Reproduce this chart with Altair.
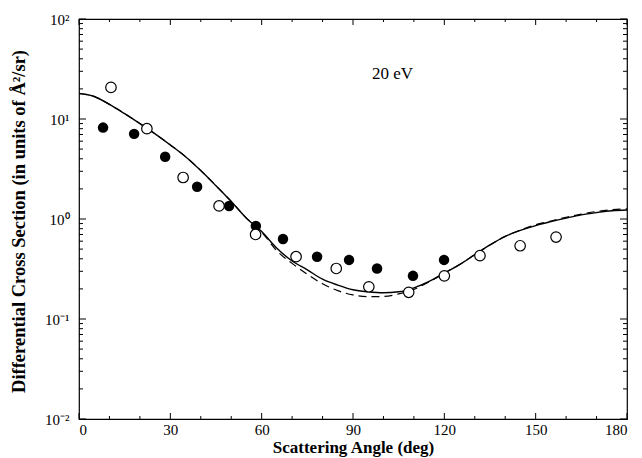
import json
import altair as alt
import pandas as pd

# ---------------- data ----------------
angles = list(range(0, 181, 5))
theory_solid = [18.0, 16.8, 14.0, 11.3, 9.0, 7.1, 5.5, 4.2, 3.05, 2.15, 1.5, 1.02,
                0.75, 0.51, 0.38, 0.31, 0.25, 0.218, 0.196, 0.187, 0.183, 0.187,
                0.205, 0.238, 0.288, 0.35, 0.44, 0.55, 0.67, 0.77, 0.86, 0.94,
                1.02, 1.10, 1.16, 1.21, 1.23]
theory_dashed = [18.0, 16.8, 14.0, 11.3, 9.0, 7.1, 5.5, 4.2, 3.05, 2.15, 1.5, 1.02,
                 0.74, 0.48, 0.36, 0.28, 0.225, 0.192, 0.174, 0.167, 0.168, 0.178,
                 0.198, 0.235, 0.288, 0.35, 0.44, 0.55, 0.67, 0.775, 0.875, 0.955,
                 1.04, 1.12, 1.19, 1.24, 1.26]

filled_x = [7.9, 18.1, 28.3, 38.8, 49.3, 58.1, 67.0, 78.2, 88.7, 97.9, 109.7, 119.9]
filled_y = [8.2, 7.1, 4.2, 2.1, 1.35, 0.85, 0.63, 0.42, 0.39, 0.32, 0.27, 0.39]

open_x = [10.5, 22.3, 34.2, 46.0, 58.0, 71.3, 84.5, 95.2, 108.3, 120.0, 131.7, 144.9, 156.7]
open_y = [20.7, 8.0, 2.6, 1.35, 0.70, 0.42, 0.32, 0.21, 0.185, 0.27, 0.43, 0.54, 0.66]

x_major = [0, 30, 60, 90, 120, 150, 180]
x_minor = [10, 20, 40, 50, 70, 80, 100, 110, 130, 140, 160, 170]
y_major = [0.01, 0.1, 1, 10, 100]
y_tick_labels = ["10⁻²", "10⁻¹", "10⁰", "10¹", "10²"]
y_minor = [m * d for d in [0.01, 0.1, 1, 10] for m in range(2, 10)]

label_text = ["20 eV"]
label_x = [103]
label_y = [28]

x_title = "Scattering Angle (deg)"
y_title = "Differential Cross Section (in units of Å²/sr)"

# ---------------- chart ----------------
W, H = 548, 400
FONT = "Liberation Serif"

df_solid = pd.DataFrame({"angle": angles, "dcs": theory_solid})
df_dashed = pd.DataFrame({"angle": angles, "dcs": theory_dashed})
df_filled = pd.DataFrame({"angle": filled_x, "dcs": filled_y})
df_open = pd.DataFrame({"angle": open_x, "dcs": open_y})
df_label = pd.DataFrame({"angle": label_x, "dcs": label_y, "t": label_text})

xs = alt.Scale(domain=[0, 180], nice=False, zero=False)
ys = alt.Scale(type="log", domain=[0.01, 100], nice=False)

label_expr = "{}[round(log(datum.value)/LN10)+2]".format(json.dumps(y_tick_labels, ensure_ascii=False))

xax = alt.Axis(values=x_major, title=x_title, grid=False, ticks=False, domain=False,
               labelFont=FONT, labelFontSize=15, labelPadding=3, labelColor="black",
               titleFont=FONT, titleFontSize=17, titleFontWeight="bold", titleColor="black",
               titleY=20, titleBaseline="top")
yax = alt.Axis(values=y_major, title=y_title, grid=False, ticks=False, domain=False,
               labelExpr=label_expr,
               labelFont=FONT, labelFontSize=15, labelPadding=10, labelColor="black",
               titleFont=FONT, titleFontSize=18.5, titleFontWeight="bold", titleColor="black",
               titleX=-51, titleY=H / 2 + 2)


def X(field="angle:Q"):
    return alt.X(field, scale=xs, axis=xax)


def Y(field="dcs:Q"):
    return alt.Y(field, scale=ys, axis=yax)


solid = alt.Chart(df_solid).mark_line(color="black", strokeWidth=1.4, interpolate="monotone").encode(
    x=X(), y=Y())
dashed = alt.Chart(df_dashed).mark_line(color="black", strokeWidth=1.2, strokeDash=[8, 5],
                                         interpolate="monotone").encode(x=X(), y=Y())
filled = alt.Chart(df_filled).mark_point(shape="circle", filled=True, color="black", size=110,
                                          opacity=1).encode(x=X(), y=Y())
opened = alt.Chart(df_open).mark_point(shape="circle", filled=True, fill="white", stroke="black",
                                        strokeWidth=1.2, size=110, opacity=1).encode(x=X(), y=Y())
label = alt.Chart(df_label).mark_text(font=FONT, fontSize=17, color="black").encode(
    x=X(), y=Y(), text="t:N")


def xticks(vals, length):
    d = pd.DataFrame({"angle": vals})
    bottom = alt.Chart(d).mark_rule(color="black", strokeWidth=1).encode(
        x=X(), y=alt.value(H), y2=alt.value(H - length))
    top = alt.Chart(d).mark_rule(color="black", strokeWidth=1).encode(
        x=X(), y=alt.value(0), y2=alt.value(length))
    return [bottom, top]


def yticks(vals, length):
    d = pd.DataFrame({"dcs": vals})
    left = alt.Chart(d).mark_rule(color="black", strokeWidth=1).encode(
        y=Y(), x=alt.value(0), x2=alt.value(length))
    right = alt.Chart(d).mark_rule(color="black", strokeWidth=1).encode(
        y=Y(), x=alt.value(W), x2=alt.value(W - length))
    return [left, right]


layers = [solid, dashed] + xticks(x_major, 6) + xticks(x_minor, 3) + \
    yticks(y_major, 7) + yticks(y_minor, 4) + [filled, opened, label]

chart = alt.layer(*layers).properties(
    width=W, height=H,
    autosize=alt.AutoSizeParams(type="none"),
    padding={"left": 71, "top": 11, "right": 7, "bottom": 40},
    background="white",
).configure_view(stroke="black", strokeWidth=1.2)

chart.save("out.html", embed_options={"renderer": "svg", "actions": False})
